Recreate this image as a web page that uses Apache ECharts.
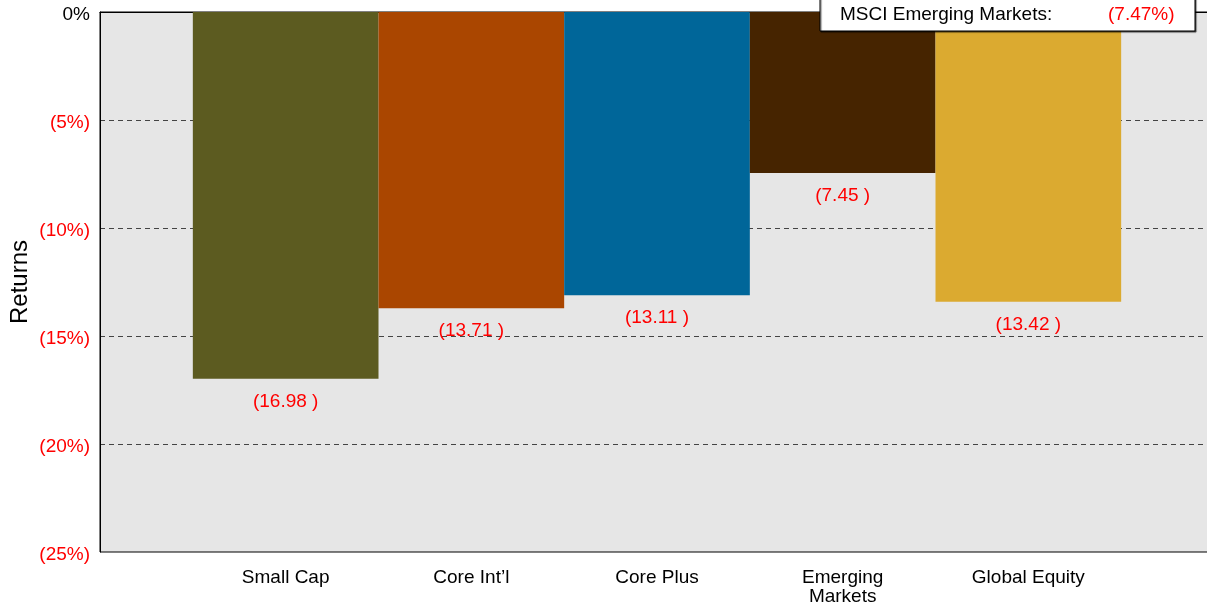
<!DOCTYPE html>
<html>
<head>
<meta charset="utf-8">
<script src="https://cdn.jsdelivr.net/npm/echarts@6/dist/echarts.min.js"></script>
<style>
html,body{margin:0;padding:0;background:#fff;}
#chart{width:1207px;height:603px;}
</style>
</head>
<body>
<div id="chart"></div>
<script>
const categories = ['Small Cap', 'Core Int\u2019l', 'Core Plus', 'Emerging\nMarkets', 'Global Equity'];
const returns = [-16.98, -13.71, -13.11, -7.45, -13.42];
const yTicks = [0, -5, -10, -15, -20, -25];
const benchmarkName = 'MSCI Emerging Markets:';
const benchmarkValue = -7.47;
const palette = ['#5c5b20', '#aa4600', '#006699', '#462400', '#dbaa30'];

const axisCats = [''].concat(categories).concat(['']);
const barData = [null].concat(returns.map((v, i) => ({ value: v, itemStyle: { color: palette[i] } }))).concat([null]);

const FONT = 'Liberation Sans, Arial, sans-serif';
const fmtNeg = v => '(' + Math.abs(v).toFixed(2) + ' )';
const fmtPct = v => v === 0 ? '0%' : '(' + Math.abs(v) + '%)';
const fmtPct2 = v => '(' + Math.abs(v).toFixed(2) + '%)';

const chart = echarts.init(document.getElementById('chart'));
chart.setOption({
  animation: false,
  textStyle: { fontFamily: FONT },
  grid: {
    left: 100, right: -7, top: 12, bottom: 51,
    outerBoundsMode: 'none',
    containLabel: false,
    show: true, backgroundColor: '#e6e6e6', borderColor: '#000', borderWidth: 1
  },
  xAxis: {
    type: 'category',
    data: axisCats,
    boundaryGap: false,
    axisLine: { show: true, lineStyle: { color: '#000', width: 1 } },
    axisTick: { show: false },
    splitLine: { show: false },
    axisLabel: { color: '#000', fontSize: 19, margin: 16, lineHeight: 19, interval: 0 }
  },
  yAxis: {
    type: 'value',
    min: -25, max: 0, interval: 5,
    name: 'Returns',
    nameLocation: 'middle',
    nameGap: 68,
    nameMoveOverlap: false,
    nameTextStyle: { fontSize: 24, color: '#000' },
    axisLine: { show: true, lineStyle: { color: '#000', width: 1 } },
    axisTick: { show: false },
    splitLine: { show: true, showMinLine: false, showMaxLine: false, lineStyle: { color: '#444', type: [5, 4], width: 1 } },
    axisLabel: {
      fontSize: 19, margin: 10,
      padding: [6, 0, 0, 0],
      formatter: v => (v === 0 ? '{k|' : '{r|') + fmtPct(v) + '}',
      rich: { k: { color: '#000', fontSize: 19 }, r: { color: '#ff0000', fontSize: 19 } }
    }
  },
  series: [{
    type: 'bar',
    data: barData,
    barWidth: '100%',
    z: 2,
    label: {
      show: true,
      position: 'bottom',
      distance: 13,
      color: '#ff0000',
      fontSize: 19,
      formatter: p => fmtNeg(p.value)
    }
  }],
  graphic: [{
    type: 'group',
    x: 820, y: -10,
    z: 100,
    children: [
      { type: 'rect', z: 100, shape: { x: 0, y: 0, width: 375, height: 41 },
        style: { fill: '#fff', stroke: '#000', lineWidth: 1, shadowColor: 'rgba(0,0,0,0.6)', shadowOffsetX: 1, shadowOffsetY: 1, shadowBlur: 1 } },
      { type: 'text', z: 101, x: 20, y: 25, style: { text: benchmarkName, fill: '#000', font: '19px ' + FONT, verticalAlign: 'middle' } },
      { type: 'text', z: 101, x: 288, y: 25, style: { text: fmtPct2(benchmarkValue), fill: '#ff0000', font: '19px ' + FONT, verticalAlign: 'middle' } }
    ]
  }]
});
</script>
</body>
</html>
